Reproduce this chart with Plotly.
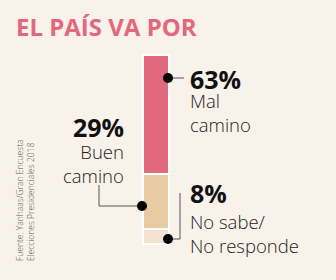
import plotly.graph_objects as go

# ---- data ----
categories = ["No sabe/<br>No responde", "Buen<br>camino", "Mal<br>camino"]
values = [8, 29, 63]
pct_labels = ["8%", "29%", "63%"]
title_text = "EL PAÍS VA POR"
source_text = "Fuente: Yanhaas/Gran Encuesta<br>Elecciones Presidenciales 2018"

# ---- style ----
W, H = 336, 280
BG = "#f9f2ea"
PINK = "#e2687e"
colors = ["#f3e3d1", "#e8cba2", PINK]
FONT = "Open Sans"
LINE = "#555555"


def px(x):
    return x / W


def py(y):
    return 1 - y / H


# y axis so that 0 -> pixel 244 and 100 -> pixel 55
scale = (244 - 55) / 100.0
y_lo = -(H - 244) / scale
y_hi = 100 + 55 / scale

fig = go.Figure()
for cat, v, c in zip(categories, values, colors):
    fig.add_trace(go.Bar(
        x=[156], y=[v], name=cat, width=26,
        marker=dict(color=c, line=dict(color="white", width=2)),
        hoverinfo="skip", showlegend=False,
    ))

shapes = []


def seg(x0, y0, x1, y1):
    shapes.append(dict(type="line", xref="paper", yref="paper",
                       x0=px(x0), y0=py(y0), x1=px(x1), y1=py(y1),
                       line=dict(color=LINE, width=1)))


def dot(x, y, r=5):
    shapes.append(dict(type="circle", xref="paper", yref="paper",
                       x0=px(x - r), x1=px(x + r), y0=py(y - r), y1=py(y + r),
                       fillcolor="black", line=dict(width=0)))


# Mal camino
seg(168, 78, 184, 78)
dot(168, 78)
# Buen camino
seg(99, 185, 99, 206)
seg(99, 206, 142, 206)
dot(142, 206)
# No sabe
seg(168, 239, 180, 239)
seg(180, 239, 180, 193)
dot(168, 239)

ann = []


def text(t, x, y, size, xanchor="left", yanchor="middle", weight="normal",
         color="#111111", align="left"):
    ann.append(dict(text=t, x=px(x), y=py(y), xref="paper", yref="paper",
                    xanchor=xanchor, yanchor=yanchor, showarrow=False,
                    align=align,
                    font=dict(family=FONT, size=size, color=color, weight=weight)))


# title
text(title_text, 14, 26, 24, weight="bold", color=PINK)
# percentages
text(pct_labels[2], 188, 79, 25, weight="bold")
text(pct_labels[1], 126, 127, 25, xanchor="right", weight="bold")
text(pct_labels[0], 188, 193, 25, weight="bold")
# category labels
text(categories[2], 188, 112, 18.5, weight=300, color="#222222")
text(categories[1], 126, 163, 18.5, xanchor="right", weight=300, align="right",
     color="#222222")
text(categories[0], 188, 233, 18.5, weight=300, color="#222222")

# source (rotated)
ann.append(dict(text=source_text, x=px(25), y=py(263), xref="paper",
                yref="paper", xanchor="center", yanchor="bottom",
                showarrow=False, textangle=-90, align="left",
                font=dict(family=FONT, size=8.5, color="#555555", weight=300)))

fig.update_layout(
    width=W, height=H, barmode="stack", bargap=0,
    paper_bgcolor=BG, plot_bgcolor=BG,
    margin=dict(l=0, r=0, t=0, b=0),
    xaxis=dict(range=[0, W], visible=False, fixedrange=True),
    yaxis=dict(range=[y_lo, y_hi], visible=False, fixedrange=True),
    shapes=shapes, annotations=ann,
)
fig.write_html("out.html", config={"displayModeBar": False})
